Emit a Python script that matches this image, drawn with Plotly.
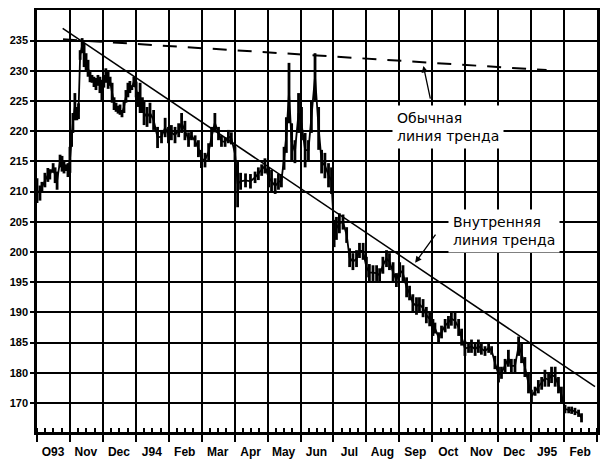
import plotly.graph_objects as go

# month labels (tick text), one per month period
months = ["O93", "Nov", "Dec", "J94", "Feb", "Mar", "Apr", "May", "Jun",
          "Jul", "Aug", "Sep", "Oct", "Nov", "Dec", "J95", "Feb"]

# y tick values and their printed labels (as they appear on the chart)
y_ticks = [175, 180, 185, 190, 195, 200, 205, 210, 215, 220, 225, 230, 235]
y_text = ["170", "180", "185", "190", "195", "200", "205", "210", "215", "220", "225", "230", "235"]

# time position in months since start of Oct 1993
t = [0.00, 0.09, 0.15, 0.24, 0.33, 0.39, 0.49, 0.55, 0.61, 0.70,
     0.76, 0.82, 0.88, 0.94, 1.00, 1.05, 1.09, 1.15, 1.21, 1.26,
     1.31, 1.37, 1.43, 1.49, 1.55, 1.61, 1.67, 1.73, 1.79, 1.85,
     1.91, 1.97, 2.03, 2.09, 2.16, 2.22, 2.28, 2.34, 2.40, 2.46,
     2.52, 2.58, 2.64, 2.70, 2.76, 2.82, 2.88, 2.94, 3.01, 3.07,
     3.13, 3.20, 3.25, 3.34, 3.43, 3.54, 3.66, 3.78, 3.89, 3.99,
     4.08, 4.19, 4.30, 4.39, 4.49, 4.60, 4.69, 4.80, 4.90, 4.99,
     5.10, 5.21, 5.30, 5.40, 5.51, 5.60, 5.71, 5.81, 5.90, 6.01,
     6.09, 6.18, 6.33, 6.48, 6.62, 6.72, 6.82, 6.92, 7.03, 7.12,
     7.23, 7.33, 7.42, 7.50, 7.57, 7.65, 7.73, 7.83, 7.94, 8.03,
     8.14, 8.24, 8.33, 8.44, 8.55, 8.64, 8.74, 8.85, 8.94, 9.02,
     9.09, 9.18, 9.29, 9.40, 9.49, 9.59, 9.70, 9.79, 9.90, 10.00,
     10.09, 10.20, 10.31, 10.40, 10.50, 10.61, 10.70, 10.81, 10.91, 11.01,
     11.11, 11.22, 11.31, 11.41, 11.52, 11.61, 11.72, 11.82, 11.92, 12.02,
     12.08, 12.19, 12.28, 12.39, 12.49, 12.58, 12.69, 12.80, 12.89, 12.99,
     13.10, 13.19, 13.30, 13.40, 13.49, 13.60, 13.71, 13.80, 13.90, 14.01,
     14.10, 14.21, 14.31, 14.40, 14.51, 14.62, 14.71, 14.81, 14.92, 15.01,
     15.12, 15.22, 15.32, 15.42, 15.53, 15.62, 15.73, 15.83, 15.92, 16.03,
     16.14, 16.23, 16.33, 16.44, 16.53]

high = [212.2, 211.0, 211.6, 213.1, 213.9, 213.7, 214.7, 214.0, 213.3, 216.1,
        215.9, 215.0, 214.5, 214.7, 217.4, 220.2, 223.0, 226.3, 224.0, 224.6,
        233.4, 235.4, 234.6, 232.9, 231.8, 230.1, 229.3, 229.0, 228.8, 229.3,
        229.0, 228.5, 229.3, 230.4, 230.0, 229.0, 228.0, 225.6, 224.7, 224.2,
        224.4, 223.5, 225.0, 226.8, 228.0, 228.3, 227.6, 229.0, 228.2, 226.5,
        228.0, 225.6, 225.0, 224.0, 224.7, 223.5, 220.7, 220.2, 222.2, 220.7,
        221.0, 220.7, 221.3, 223.0, 221.7, 219.8, 220.0, 219.3, 218.5, 216.9,
        216.4, 218.0, 220.7, 223.0, 220.7, 219.3, 219.0, 220.2, 219.8, 217.4,
        215.2, 213.1, 213.0, 212.9, 213.3, 214.0, 214.5, 215.5, 214.0, 213.6,
        212.2, 212.9, 212.9, 217.4, 222.3, 231.3, 221.3, 218.5, 226.3, 224.0,
        219.7, 218.5, 225.1, 232.9, 224.0, 216.9, 216.4, 214.7, 214.0, 205.3,
        205.8, 206.4, 206.2, 204.1, 200.6, 199.8, 200.3, 201.5, 201.5, 199.2,
        198.0, 197.8, 197.8, 197.3, 199.2, 200.3, 199.8, 198.3, 196.5, 198.3,
        197.8, 195.8, 194.4, 193.0, 192.5, 192.5, 192.2, 190.9, 190.1, 188.9,
        188.3, 186.7, 187.8, 188.9, 189.4, 190.1, 189.9, 188.9, 187.3, 185.3,
        185.0, 185.5, 185.0, 185.5, 185.0, 184.4, 185.0, 184.4, 182.8, 181.0,
        181.0, 182.3, 183.8, 182.3, 182.3, 186.0, 184.9, 182.6, 180.0, 177.2,
        177.7, 178.8, 179.3, 180.5, 180.0, 181.0, 181.0, 179.3, 177.7, 174.7,
        174.4, 174.4, 174.2, 173.9, 173.3]

low = [208.1, 208.5, 209.9, 210.7, 211.6, 212.0, 213.1, 211.4, 210.3, 214.0,
       213.3, 213.0, 213.4, 212.4, 213.1, 217.4, 219.7, 221.8, 221.8, 222.0,
       231.8, 232.9, 230.6, 230.1, 229.0, 228.1, 228.0, 227.3, 226.8, 227.5,
       226.3, 225.1, 227.2, 228.0, 227.0, 227.5, 224.7, 223.5, 223.2, 222.9,
       222.7, 222.3, 223.0, 224.7, 225.6, 226.3, 226.8, 227.3, 225.6, 224.0,
       223.0, 223.0, 221.0, 220.7, 221.3, 220.2, 217.2, 218.0, 219.0, 218.0,
       218.5, 218.0, 219.0, 219.7, 218.5, 217.4, 218.5, 217.4, 215.7, 213.9,
       214.0, 215.2, 217.4, 219.8, 218.5, 217.4, 217.4, 218.0, 217.8, 215.2,
       207.4, 210.3, 210.7, 210.5, 211.4, 211.9, 212.6, 213.0, 210.7, 209.8,
       209.6, 210.3, 210.7, 213.6, 216.4, 221.3, 215.2, 214.7, 219.7, 218.5,
       214.0, 215.2, 219.7, 225.1, 216.9, 213.0, 212.2, 210.7, 209.6, 200.8,
       202.0, 203.1, 203.7, 201.5, 197.5, 197.0, 197.5, 199.0, 198.7, 195.8,
       195.2, 195.2, 195.2, 195.0, 196.4, 197.5, 197.0, 195.0, 194.2, 195.8,
       195.0, 192.5, 192.0, 190.1, 189.6, 190.2, 189.2, 188.2, 187.7, 186.1,
       186.5, 185.0, 185.7, 186.7, 187.3, 187.8, 187.3, 186.1, 184.5, 182.8,
       183.3, 183.3, 182.8, 183.3, 183.0, 182.8, 183.3, 183.0, 180.6, 178.4,
       179.0, 180.0, 181.0, 180.0, 180.0, 182.8, 181.6, 179.3, 176.6, 175.0,
       176.2, 176.6, 177.2, 177.7, 177.7, 178.3, 177.7, 176.6, 175.0, 173.3,
       173.3, 173.2, 173.0, 172.7, 171.8]

# trend lines (endpoints in months / price)
inner_trend_t = [0.78, 16.94]
inner_trend_p = [237.0, 177.7]
usual_trend_t = [0.79, 15.47]
usual_trend_p = [235.2, 230.1]

# ---- build figure ----
seg_x, seg_y = [], []
for ti, h, l in zip(t, high, low):
    seg_x += [ti, ti, None]
    seg_y += [l, h, None]
mid = [(h + l) / 2 for h, l in zip(high, low)]

fig = go.Figure()
fig.add_trace(go.Scatter(x=t, y=mid, mode="lines",
                         line=dict(color="black", width=1.8), hoverinfo="skip"))
fig.add_trace(go.Scatter(x=seg_x, y=seg_y, mode="lines",
                         line=dict(color="black", width=2.8), hoverinfo="skip"))
fig.add_trace(go.Scatter(x=inner_trend_t, y=inner_trend_p, mode="lines",
                         line=dict(color="black", width=1.5)))
fig.add_trace(go.Scatter(x=usual_trend_t, y=usual_trend_p, mode="lines",
                         line=dict(color="black", width=2, dash="14px,11px")))

txt_font = dict(family="DejaVu Sans", size=14, color="black")
fig.add_annotation(x=10.78, y=220.7, xref="x", yref="y", text="Обычная<br>линия тренда",
                   showarrow=False, xanchor="left", yanchor="middle", align="left",
                   font=txt_font, bgcolor="white", borderpad=4)
fig.add_annotation(x=11.73, y=230.8, ax=11.95, ay=225.15, xref="x", yref="y",
                   axref="x", ayref="y", text="", showarrow=True,
                   arrowhead=2, arrowsize=1, arrowwidth=1.3, arrowcolor="black")
fig.add_annotation(x=12.48, y=203.4, xref="x", yref="y", text="Внутренняя<br>линия тренда",
                   showarrow=False, xanchor="left", yanchor="middle", align="left",
                   font=txt_font, bgcolor="white", borderpad=4)
fig.add_annotation(x=11.48, y=198.2, ax=12.13, ay=203.1, xref="x", yref="y",
                   axref="x", ayref="y", text="", showarrow=True,
                   arrowhead=2, arrowsize=1, arrowwidth=1.3, arrowcolor="black")

axis_font = dict(family="Liberation Sans", size=12, color="black", weight="bold")

# page body has an 8px default margin, so the figure is sized to fit the window
fig.update_layout(
    width=603, height=463,
    margin=dict(l=29, r=14, t=2, b=39, autoexpand=False),
    plot_bgcolor="white", paper_bgcolor="white",
    showlegend=False,
    xaxis=dict(
        range=[0, 17],
        automargin=False,
        tickmode="array",
        tickvals=list(range(len(months) + 1)),
        ticktext=months + [""],
        ticklabelshift=16,
        showgrid=True, gridcolor="black", gridwidth=2,
        ticks="outside", ticklen=7, tickwidth=2, tickcolor="black",
        showline=True, linecolor="black", linewidth=2.5, mirror=True,
        zeroline=False,
        tickfont=axis_font,
        minor=dict(dtick=0.25, tick0=0, ticks="inside", ticklen=4,
                   tickwidth=1.5, tickcolor="black", showgrid=False),
    ),
    yaxis=dict(
        range=[170.2, 240.05],
        automargin=False,
        tickmode="array",
        tickvals=y_ticks,
        ticktext=y_text,
        showgrid=True, gridcolor="black", gridwidth=2,
        ticks="outside", ticklen=4, tickwidth=2, tickcolor="black",
        showline=True, linecolor="black", linewidth=2.5, mirror=True,
        zeroline=False,
        tickfont=dict(family="Liberation Sans", size=11, color="black", weight="bold"),
    ),
)

fig.write_html("out.html")
